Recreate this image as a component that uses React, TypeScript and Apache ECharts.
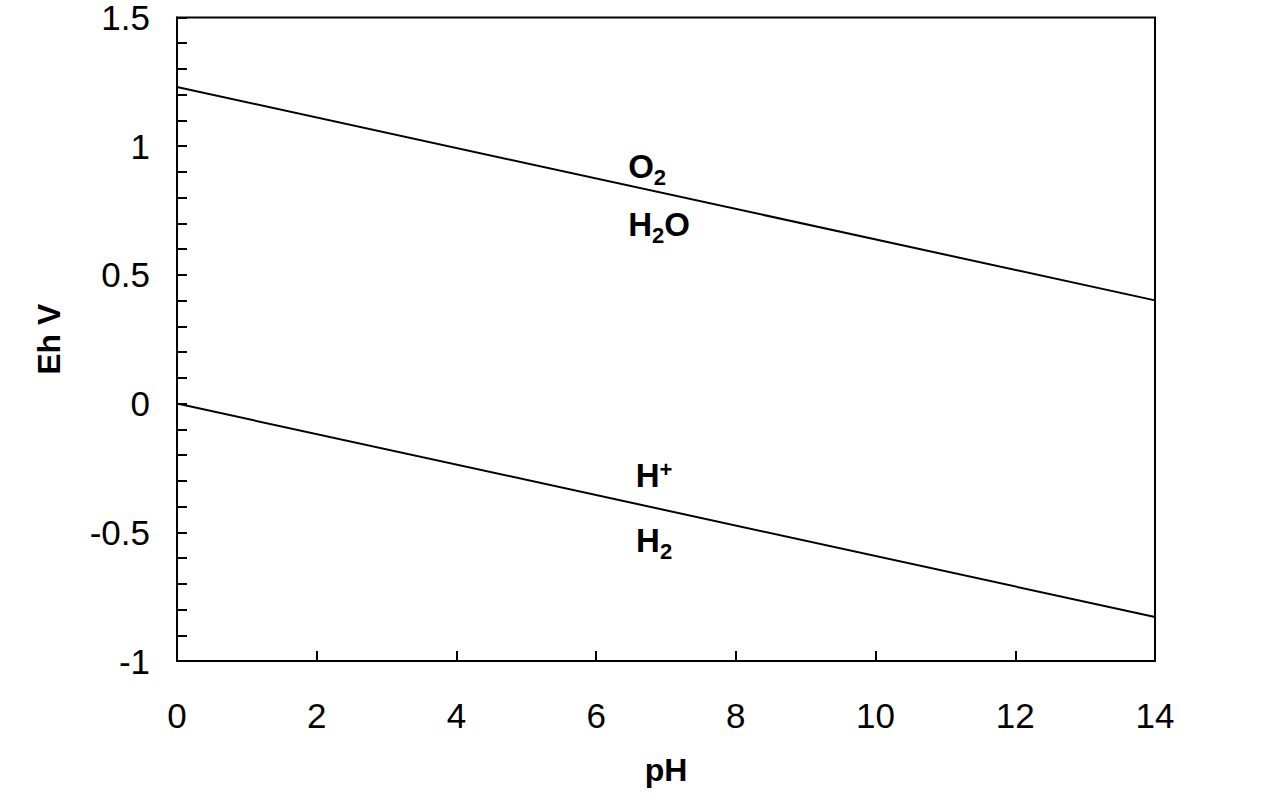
import React, { useEffect, useRef } from "react";
import * as echarts from "echarts";

const o2Line: [number, number][] = [[0, 1.23], [14, 0.401]];
const h2Line: [number, number][] = [[0, 0], [14, -0.829]];
const labels = [
  { value: [6.73, 0.92], text: "{b|O}{sub|2}" },
  { value: [6.9, 0.695], text: "{b|H}{sub|2}{b|O}" },
  { value: [6.83, -0.28], text: "{b|H}{sup|+}" },
  { value: [6.83, -0.53], text: "{b|H}{sub|2}" },
];

export default function App() {
  const ref = useRef<HTMLDivElement>(null);
  useEffect(() => {
    const chart = echarts.init(ref.current!, null, { renderer: "svg" });
    const font = "Liberation Sans, Arial, sans-serif";
    chart.setOption({
      animation: false,
      grid: { left: 177, right: 115, top: 15, bottom: 146, show: true, borderColor: "#000", borderWidth: 2 },
      xAxis: {
        type: "value", min: 0, max: 14, interval: 2,
        name: "pH", nameLocation: "middle", nameGap: 93,
        nameTextStyle: { fontFamily: font, fontWeight: "bold", fontSize: 32, color: "#000" },
        axisLine: { onZero: false, lineStyle: { color: "#000", width: 2 } },
        axisTick: { inside: true, length: 10, lineStyle: { color: "#000", width: 2 } },
        axisLabel: { fontFamily: font, fontSize: 35, color: "#000", margin: 37 },
        splitLine: { show: false },
      },
      yAxis: {
        type: "value", min: -1, max: 1.5, interval: 0.5,
        name: "Eh V", nameLocation: "middle", nameGap: 112,
        nameTextStyle: { fontFamily: font, fontWeight: "bold", fontSize: 32, color: "#000" },
        axisLine: { lineStyle: { color: "#000", width: 2 } },
        axisTick: { inside: true, length: 10, lineStyle: { color: "#000", width: 2 } },
        minorTick: { show: true, splitNumber: 5, length: 10, lineStyle: { color: "#000", width: 2 } },
        axisLabel: { fontFamily: font, fontSize: 35, lineHeight: 26, color: "#000", margin: 27 },
        splitLine: { show: false },
      },
      series: [
        { type: "line", data: o2Line, symbol: "none", lineStyle: { color: "#000", width: 2 } },
        { type: "line", data: h2Line, symbol: "none", lineStyle: { color: "#000", width: 2 } },
        {
          type: "scatter", symbolSize: 0, data: labels.map((l) => ({ value: l.value, name: l.text })),
          itemStyle: { color: "#000", opacity: 1 },
          label: {
            show: true, position: "inside", formatter: (p: any) => p.name,
            color: "#000", opacity: 1, textBorderWidth: 0,
            rich: {
              b: { fontFamily: font, fontWeight: "bold", fontSize: 33, color: "#000", textBorderWidth: 0 },
              sub: { fontFamily: font, fontWeight: "bold", fontSize: 22, color: "#000", textBorderWidth: 0, padding: [22, 0, 0, 0] },
              sup: { fontFamily: font, fontWeight: "bold", fontSize: 22, color: "#000", textBorderWidth: 0, padding: [0, 0, 12, 0] },
            },
          },
        },
      ],
    });
    return () => chart.dispose();
  }, []);
  return <div ref={ref} style={{ width: 1270, height: 807, position: "absolute", left: 0, top: 0 }} />;
}
